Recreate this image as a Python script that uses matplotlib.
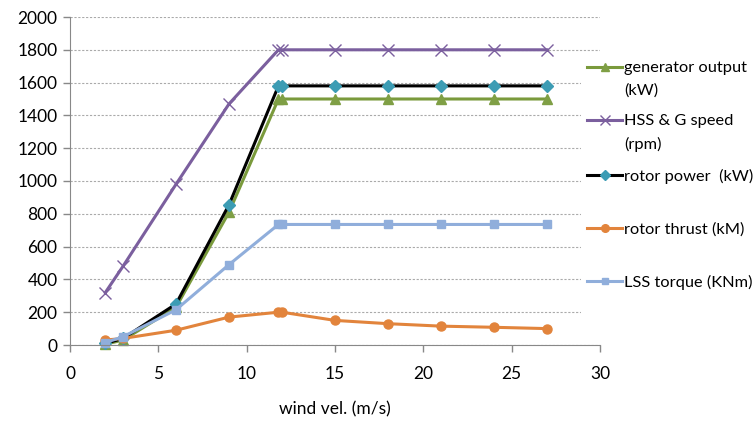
import matplotlib
matplotlib.use("Agg")
import matplotlib.pyplot as plt
from matplotlib.lines import Line2D
from matplotlib.patches import Rectangle

plt.rcParams['font.family'] = ['Lato', 'DejaVu Sans']

wind = [2, 3, 6, 9, 11.8, 12, 15, 18, 21, 24, 27]
generator_output = [5, 30, 230, 810, 1500, 1500, 1500, 1500, 1500, 1500, 1500]
hss_speed = [320, 480, 980, 1470, 1800, 1800, 1800, 1800, 1800, 1800, 1800]
rotor_power = [10, 40, 250, 855, 1580, 1580, 1580, 1580, 1580, 1580, 1580]
rotor_thrust = [30, 40, 90, 170, 200, 200, 150, 130, 115, 108, 100]
lss_torque = [15, 50, 215, 490, 735, 735, 735, 735, 735, 735, 735]

labels = ["generator output\n(kW)", "HSS & G speed\n(rpm)", "rotor power  (kW)",
          "rotor thrust (kM)", "LSS torque (KNm)"]
x_ticks = [0, 5, 10, 15, 20, 25, 30]
y_ticks = list(range(0, 2001, 200))

fig = plt.figure(figsize=(7.55, 4.22), dpi=100)
ax = fig.add_axes([70 / 755, 1 - 345 / 422, 530 / 755, 328 / 422])

styles = [
    dict(color="#7a9a3c", marker="^", markersize=7, mfc="#7f9f45", mec="#7f9f45"),
    dict(color="#7b5f9e", marker="x", markersize=8, mew=1.0, mfc="#7b5f9e", mec="#7b5f9e"),
    dict(color="#000000", marker="D", markersize=6, mfc="#3c9cb4", mec="#3c9cb4"),
    dict(color="#e2843c", marker="o", markersize=6.5, mfc="#e2843c", mec="#e2843c"),
    dict(color="#90aedb", marker="s", markersize=5.5, mfc="#90aedb", mec="#90aedb"),
]
series = [generator_output, hss_speed, rotor_power, rotor_thrust, lss_torque]

for vals, st in zip(series, styles):
    ax.plot(wind, vals, lw=2.2, **st, clip_on=False)

ax.set_xlim(0, 30)
ax.set_ylim(0, 2000)
ax.set_xticks(x_ticks)
ax.set_yticks(y_ticks)
ax.tick_params(axis='both', labelsize=12.5, colors="#888888", labelcolor="#000000",
               length=5, width=1)
ax.tick_params(axis='x', pad=10)
ax.tick_params(axis='y', pad=4)
for s in ["top", "right"]:
    ax.spines[s].set_visible(False)
for s in ["left", "bottom"]:
    ax.spines[s].set_color("#888888")
ax.yaxis.grid(True, linestyle=(0, (2, 1.5)), color="#aaaaaa", lw=0.8)
ax.set_axisbelow(True)
ax.set_xlabel("wind vel. (m/s)", fontsize=12.5, labelpad=14)

# Legend box with a white background, overlapping the right end of the grid
fig.add_artist(Rectangle((581 / 755, 1 - 332 / 422), 174 / 755, 280 / 422,
                         transform=fig.transFigure, facecolor="white",
                         edgecolor="none", zorder=2))
slot_y = [67, 120, 175, 228, 281]
for lab, st, yp in zip(labels, styles, slot_y):
    fy = 1 - yp / 422
    h = Line2D([587 / 755, 622 / 755], [fy, fy], transform=fig.transFigure,
               lw=2.2, color=st["color"], zorder=3)
    fig.add_artist(h)
    m = Line2D([604.5 / 755], [fy], transform=fig.transFigure, lw=0,
               marker=st["marker"], markersize=st["markersize"] - 1,
               mfc=st["mfc"], mec=st["mec"], mew=st.get("mew", 1.0), zorder=3)
    fig.add_artist(m)
    fig.text(624 / 755, fy + 6 / 422, lab, fontsize=11.8, va="top", ha="left",
             linespacing=1.75, zorder=3)

fig.savefig("out.png", dpi=100)
